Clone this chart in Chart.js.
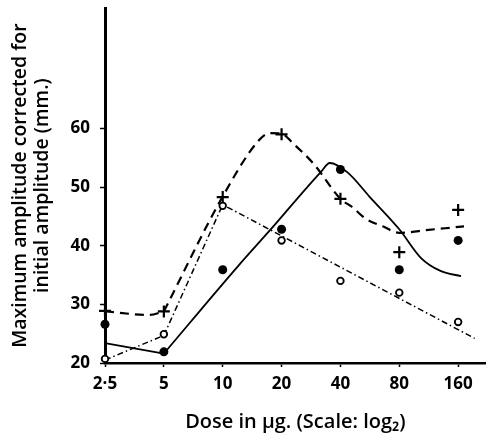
<!DOCTYPE html>
<html>
<head>
<meta charset="utf-8">
<script src="https://cdn.jsdelivr.net/npm/chart.js@4/dist/chart.umd.min.js"></script>
<style>
  html, body { margin: 0; padding: 0; background: #fff; }
  #wrap { width: 494px; height: 434px; }
</style>
</head>
<body>
<div id="wrap"><canvas id="c" width="494" height="434"></canvas></div>
<script>
// Dose categories (log2 scale positions) and tick labels
const doseLabels = ['2·5', '5', '10', '20', '40', '80', '160'];
const doseIndex = [0, 1, 2, 3, 4, 5, 6];

// Observed points
const filledValues = [26.6, 21.9, 35.9, 42.8, 53.0, 35.9, 40.9];
const plusValues   = [28.9, 28.8, 48.3, 59.0, 48.0, 38.9, 46.1];
const openValues   = [20.7, 24.9, 46.8, 40.9, 34.0, 32.0, 27.0];

// Drawn curves, x in log2 dose positions
const solidAX = [0, 1];
const solidAY = [23.4, 21.6];
const solidBX = [1, 2.25, 2.8, 3.67, 3.82, 4.12, 4.5, 5, 5.37, 5.7, 6.05];
const solidBY = [21.6, 36.4, 42.6, 52.6, 54.1, 52.5, 48.3, 42.8, 37.9, 35.7, 34.8];

const dashAX = [0, 0.75, 1];
const dashAY = [28.8, 28.2, 28.8];
const dashBX = [1, 2, 2.6, 2.8, 3, 3.2, 3.55, 4, 4.2, 4.43, 4.72, 5, 5.5, 6.1];
const dashBY = [28.8, 48.4, 57.8, 59.2, 59.1, 57.4, 53.9, 48.0, 46.6, 44.6, 43.3, 42.2, 42.7, 43.3];

const dotDashAX = [0, 1];
const dotDashAY = [20.5, 24.7];
const dotDashBX = [1, 2, 6.28];
const dotDashBY = [24.7, 47.0, 24.2];

const yTickValues = [20, 30, 40, 50, 60];

const pts = (xs, ys) => xs.map((x, i) => ({ x: x, y: ys[i] }));

const FONT = '"Open Sans", "DejaVu Sans", sans-serif';

const markerBase = { showLine: false, clip: false, borderColor: '#000' };
const lineBase = { pointRadius: 0, borderColor: '#000', fill: false, clip: false };

new Chart(document.getElementById('c'), {
  type: 'line',
  data: {
    datasets: [
      Object.assign({}, markerBase, {
        label: 'filled', data: pts(doseIndex, filledValues),
        pointStyle: 'circle', pointRadius: 4.5, backgroundColor: '#000', pointBorderWidth: 0
      }),
      Object.assign({}, markerBase, {
        label: 'open', data: pts(doseIndex, openValues),
        pointStyle: 'circle', pointRadius: 3.3, backgroundColor: '#fff', pointBorderWidth: 1.8
      }),
      Object.assign({}, markerBase, {
        label: 'plus', data: pts(doseIndex, plusValues),
        pointStyle: 'cross', pointRadius: 6, backgroundColor: '#000', pointBorderWidth: 2.2
      }),
      Object.assign({}, lineBase, { data: pts(solidAX, solidAY), borderWidth: 1.8, tension: 0 }),
      Object.assign({}, lineBase, { data: pts(solidBX, solidBY), borderWidth: 1.8, cubicInterpolationMode: 'monotone' }),
      Object.assign({}, lineBase, { data: pts(dashAX, dashAY), borderWidth: 2.2, borderDash: [9, 6], cubicInterpolationMode: 'monotone' }),
      Object.assign({}, lineBase, { data: pts(dashBX, dashBY), borderWidth: 2.2, borderDash: [9, 6], cubicInterpolationMode: 'monotone' }),
      Object.assign({}, lineBase, { data: pts(dotDashAX, dotDashAY), borderWidth: 1.5, borderDash: [6, 3, 1.5, 3], tension: 0 }),
      Object.assign({}, lineBase, { data: pts(dotDashBX, dotDashBY), borderWidth: 1.5, borderDash: [6, 3, 1.5, 3], tension: 0 })
    ]
  },
  options: {
    responsive: false,
    animation: false,
    devicePixelRatio: 1,
    layout: { padding: { top: 3, right: 1, left: 0, bottom: 0 } },
    plugins: { legend: { display: false }, tooltip: { enabled: false } },
    scales: {
      x: {
        type: 'linear', min: 0, max: 6.47,
        afterBuildTicks: s => { s.ticks = doseIndex.map(v => ({ value: v })); },
        afterFit: s => { s.height = 71; s.paddingLeft = 0; s.paddingRight = 0; },
        ticks: {
          callback: v => doseLabels[v] !== undefined ? doseLabels[v] : '',
          color: '#000', padding: 7, maxRotation: 0,
          font: { family: FONT, size: 17, weight: '700' }
        },
        grid: { drawOnChartArea: false, tickLength: 4, tickColor: '#000', tickWidth: 1.5 },
        border: { color: '#000', width: 2.5 },
        title: {
          display: true, text: 'Dose in μg. (Scale: log₂)', color: '#000',
          font: { family: FONT, size: 20, weight: '600' }, padding: { top: 4, bottom: 0 }
        }
      },
      y: {
        type: 'linear', min: 20, max: 80.5,
        afterBuildTicks: s => { s.ticks = yTickValues.map(v => ({ value: v })); },
        afterFit: s => { s.width = 105; s.paddingTop = 0; s.paddingBottom = 0; },
        ticks: {
          color: '#000', padding: 10,
          font: { family: FONT, size: 17, weight: '700' }
        },
        grid: { drawOnChartArea: false, tickLength: 5, tickColor: '#000', tickWidth: 1.5 },
        border: { color: '#000', width: 3 },
        title: {
          display: true, text: ['Maximum amplitude corrected for', 'initial amplitude (mm.)'], color: '#000',
          font: { family: FONT, size: 19.5, weight: '600', lineHeight: 1.1 }, padding: { top: 10, bottom: 0 }
        }
      }
    }
  }
});
</script>
</body>
</html>
